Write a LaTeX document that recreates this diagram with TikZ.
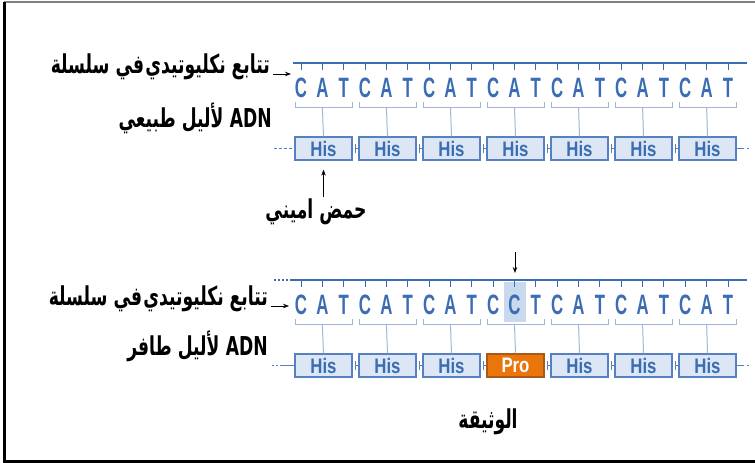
\documentclass[tikz,border=0pt]{standalone}
\usepackage{fontspec}
\usepackage{graphicx}
\setmainfont{Liberation Sans}
\newfontfamily\arabicfont[Script=Arabic]{DejaVu Sans}
\TeXXeTstate=1
\usetikzlibrary{arrows.meta}
\definecolor{dnablue}{HTML}{3B6DB3}
\definecolor{boxline}{HTML}{5681C0}
\definecolor{boxfill}{HTML}{DCE6F4}
\definecolor{brk}{HTML}{9FB6D8}
\definecolor{hlfill}{HTML}{C9D9EE}
\definecolor{proorange}{HTML}{EA760B}
\definecolor{prodark}{HTML}{A95A1A}
\def\AR#1{\scalebox{.66}[1]{\arabicfont\bfseries\beginR #1\endR}}

\begin{document}
\begin{tikzpicture}[x=1pt,y=-1pt,
  nuc/.style={text=dnablue,inner sep=0pt,font=\fontsize{28}{28}\selectfont\bfseries},
  aabox/.style={rectangle,draw=boxline,fill=boxfill,line width=1.2pt,minimum width=57pt,minimum height=23pt,inner sep=0pt,text=dnablue,font=\fontsize{21}{21}\selectfont\bfseries},
  probox/.style={aabox,draw=prodark,fill=proorange,text=white},
  lbl/.style={inner sep=0pt,font=\fontsize{26}{30}\selectfont},
  strand/.style={dnablue,line width=2.4pt},
  tick/.style={dnablue,line width=1pt},
  codon/.style={brk,line width=1pt},
  link/.style={boxline,line width=1.6pt},
  pointer/.style={black,line width=.9pt,-{Stealth[length=6pt,width=4.5pt]}}]
  \useasboundingbox (0,0) rectangle (755,463);
  % frame
  \draw[gray,line width=1.5pt] (4,2) -- (755,2);
  \draw[black,line width=3pt] (4,2) -- (4,461.5) -- (755,461.5);

  % normal allele
  \coordinate (ts) at (293,63);
  \coordinate (te) at (747,63);
  \coordinate (tin) at (291,74);
  \coordinate (tlead) at (274,148.5);
  \coordinate (tend) at (749,148.5);
  \draw[strand] (ts) -- (te);
  \foreach \b [count=\i from 0] in {C,A,T,C,A,T,C,A,T,C,A,T,C,A,T,C,A,T,C,A,T} {
    \draw[tick] ({301+21.35*\i},63) -- ++(0,7);
    \node[nuc] (t\i) at ({301+21.35*\i},88) {\scalebox{.6}[1]{\b}};
  }
  \foreach \j in {0,...,6} {
    \draw[codon] ({295+64*\j},102) -- ({295+64*\j},107) -- ({352+64*\j},107) -- ({352+64*\j},102);
    \node[aabox] (th\j) at ({323.5+64*\j},148.5) {\scalebox{.8}[1]{His}};
  }
  \foreach \j [count=\k from 1] in {0,...,5} {
    \pgfmathtruncatemacro\m{3*\j+1}
    \draw[codon] (t\m |- 0,107) -- (th\j.north);
    \draw[link,{Bar[width=9pt,line width=1.2pt]}-,shorten <=2pt] (th\j.east) -- (th\k.west);
  }
  \draw[codon] (t19 |- 0,107) -- (th6.north);
  \draw[link,dash pattern=on 3pt off 2pt] (tlead) -- (th0.west);
  \draw[link,dash pattern=on 7pt off 3pt on 2pt off 20pt] (th6.east) -- (tend);

  \node[lbl,anchor=base east] (tl1) at (270,73) {\AR{تتابع نكليوتيدي\hskip2pt في سلسلة}};
  \node[lbl,anchor=base east] (tl2) at (272,127) {\AR{\beginL ADN\endL\hskip10pt لأليل طبيعي}};
  \node[lbl] (aa) at (316,212) {\AR{حمض اميني}};
  \draw[pointer] ([xshift=3pt,yshift=-1pt]tl1.base east) -- (tin);
  \draw[pointer,shorten <=2pt,shorten >=9pt] (th0 |- aa.north) -- (th0.south);

  % mutant allele
  \coordinate (bd) at (274,280);
  \coordinate (bs) at (290,280);
  \coordinate (be) at (747,280);
  \coordinate (bin) at (289,306);
  \coordinate (blead) at (272,365.5);
  \coordinate (bend) at (749,365.5);
  \coordinate (mtop) at (515,252);
  \coordinate (mbot) at (515,273);
  \fill[hlfill] (504,282) rectangle (526,322);
  \draw[strand,dash pattern=on 2pt off 2pt,line width=1.5pt] (bd) -- (bs);
  \draw[strand] (bs) -- (be);
  \foreach \b [count=\i from 0] in {C,A,T,C,A,T,C,A,T,C,C,T,C,A,T,C,A,T,C,A,T} {
    \draw[tick] ({301+21.35*\i},280) -- ++(0,7);
    \node[nuc] (b\i) at ({301+21.35*\i},305) {\scalebox{.6}[1]{\b}};
  }
  \foreach \j in {0,...,6} {
    \draw[codon] ({295+64*\j},319) -- ({295+64*\j},324) -- ({352+64*\j},324) -- ({352+64*\j},319);
  }
  \foreach \j/\aa/\st in {0/His/aabox,1/His/aabox,2/His/aabox,3/Pro/probox,4/His/aabox,5/His/aabox,6/His/aabox}
    \node[\st] (bh\j) at ({323.5+64*\j},365.5) {\scalebox{.8}[1]{\aa}};
  \foreach \j [count=\k from 1] in {0,...,5} {
    \pgfmathtruncatemacro\m{3*\j+1}
    \draw[codon] (b\m |- 0,324) -- (bh\j.north);
    \draw[link,{Bar[width=9pt,line width=1.2pt]}-,shorten <=2pt] (bh\j.east) -- (bh\k.west);
  }
  \draw[codon] (b19 |- 0,324) -- (bh6.north);
  \draw[link,dash pattern=on 2pt off 2pt on 2pt off 2pt on 14pt] (blead) -- (bh0.west);
  \draw[link,dash pattern=on 7pt off 3pt on 2pt off 20pt] (bh6.east) -- (bend);

  \node[lbl,anchor=base east] (bl1) at (268,305) {\AR{تتابع نكليوتيدي\hskip2pt في سلسلة}};
  \node[lbl,anchor=base east] (bl2) at (268,355) {\AR{\beginL ADN\endL\hskip10pt لأليل طافر}};
  \node[lbl] (doc) at (488,422) {\AR{الوثيقة}};
  \draw[pointer] ([xshift=3pt,yshift=-1pt]bl1.base east) -- (bin);
  \draw[pointer] (mtop) -- (mbot);
\end{tikzpicture}
\end{document}
